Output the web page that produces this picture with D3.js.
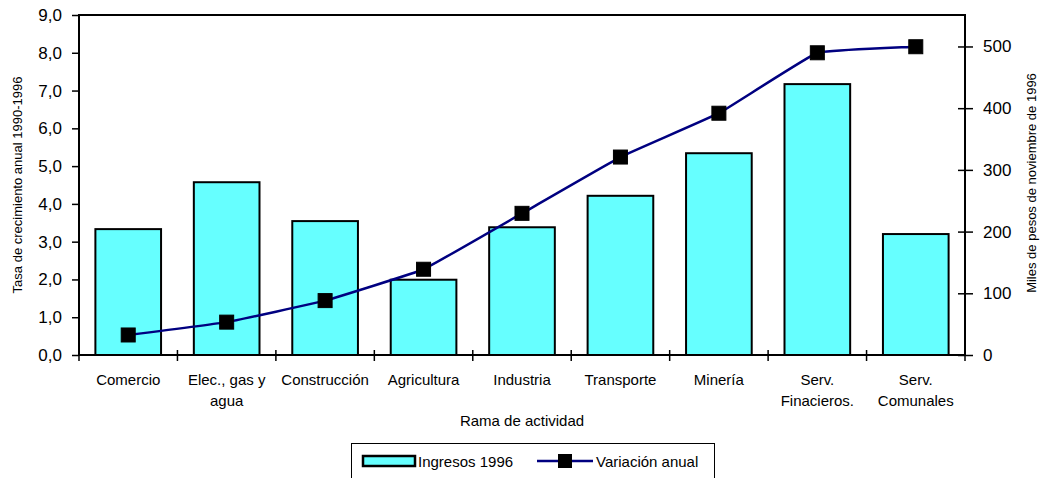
<!DOCTYPE html>
<html><head><meta charset="utf-8">
<script src="https://cdn.jsdelivr.net/npm/d3@7"></script>
<style>body{margin:0;background:#fff}svg{display:block;font-family:"Liberation Sans",Arial,sans-serif}</style>
</head><body><svg id="c" width="1041" height="478"></svg>
<script>
const categories = [["Comercio"],["Elec., gas y","agua"],["Construcción"],["Agricultura"],["Industria"],["Transporte"],["Minería"],["Serv.","Finacieros."],["Serv.","Comunales"]];
const ingresos = [204, 280, 217, 122, 207, 258, 327, 439, 196];
const variacion = [0.53, 0.87, 1.44, 2.27, 3.75, 5.24, 6.40, 8.00, 8.16];
const leftTicks = [0,1,2,3,4,5,6,7,8,9];
const rightTicks = [0,100,200,300,400,500];

const svg = d3.select("#c");
const L = 79, R = 965, T = 15, B = 355;
const keys = categories.map((c,i)=>i);
const x = d3.scaleBand().domain(keys).range([L,R]).paddingInner(0.333).paddingOuter(0.1665);
const xb = d3.scaleBand().domain(keys).range([L,R]);
const yL = d3.scaleLinear().domain([0,9]).range([B,T]);
const yR = d3.scaleLinear().domain([0,551]).range([B,T]);

// bars
svg.append("g").selectAll("rect").data(ingresos).join("rect")
  .attr("x",(d,i)=>x(i)).attr("width",x.bandwidth())
  .attr("y",d=>yR(d)).attr("height",d=>B-yR(d))
  .attr("fill","#66FFFF").attr("stroke","#000").attr("stroke-width",2);

// frame
svg.append("path").attr("d",`M${L},${B}V${T}H${R}V${B}`).attr("fill","none").attr("stroke","#000").attr("stroke-width",2);
svg.append("line").attr("x1",L).attr("x2",R).attr("y1",B).attr("y2",B).attr("stroke","#000").attr("stroke-width",2);

// left axis
const gl = svg.append("g").attr("transform",`translate(${L},0)`)
  .call(d3.axisLeft(yL).tickValues(leftTicks).tickSize(7).tickPadding(10).tickFormat(d=>d3.format(".1f")(d).replace(".",",")));
gl.select(".domain").remove();
gl.selectAll("line").attr("stroke","#000").attr("stroke-width",1.5);
gl.selectAll("text").attr("font-size",17).attr("fill","#000").attr("font-family","Liberation Sans, Arial");

// right axis
const gr = svg.append("g").attr("transform",`translate(${R},0)`)
  .call(d3.axisRight(yR).tickValues(rightTicks).tickSize(8).tickPadding(10));
gr.select(".domain").remove();
gr.selectAll("line").attr("x1",-7).attr("stroke","#000").attr("stroke-width",1.5);
gr.selectAll("text").attr("font-size",17).attr("fill","#000").attr("font-family","Liberation Sans, Arial");

// x ticks at band boundaries
svg.append("g").selectAll("line").data(keys.concat([keys.length])).join("line")
  .attr("x1",i=> i<keys.length ? xb(i) : R).attr("x2",i=> i<keys.length ? xb(i) : R)
  .attr("y1",B-5).attr("y2",B+6).attr("stroke","#000").attr("stroke-width",1.5);

// category labels
const cl = svg.append("g").selectAll("text").data(categories).join("text")
  .attr("x",(d,i)=>xb(i)+xb.bandwidth()/2).attr("y",385)
  .attr("text-anchor","middle").attr("font-size",15).attr("fill","#000");
cl.selectAll("tspan").data(d=>d).join("tspan")
  .attr("x",function(){return d3.select(this.parentNode).attr("x");})
  .attr("dy",(d,j)=>j===0?0:21).text(d=>d);

// line
const line = d3.line().x((d,i)=>xb(i)+xb.bandwidth()/2).y(d=>yL(d)).curve(d3.curveCardinal.tension(0.75));
svg.append("path").datum(variacion).attr("d",line).attr("fill","none").attr("stroke","#000080").attr("stroke-width",2.5);
svg.append("g").selectAll("rect").data(variacion).join("rect")
  .attr("x",(d,i)=>xb(i)+xb.bandwidth()/2-7).attr("y",d=>yL(d)-7)
  .attr("width",14).attr("height",14).attr("fill","#000").attr("stroke","#000");

// axis titles
svg.append("text").attr("transform",`translate(22,${(T+B)/2}) rotate(-90)`).attr("text-anchor","middle")
  .attr("font-size",13).text("Tasa de crecimiento anual 1990-1996");
svg.append("text").attr("transform",`translate(1036,${(T+B)/2-2}) rotate(-90)`).attr("text-anchor","middle")
  .attr("font-size",13).text("Miles de pesos de noviembre de 1996");
svg.append("text").attr("x",(L+R)/2).attr("y",426).attr("text-anchor","middle").attr("font-size",15).text("Rama de actividad");

// legend
const lg = svg.append("g");
lg.append("rect").attr("x",351.5).attr("y",443.5).attr("width",363).attr("height",40).attr("fill","#fff").attr("stroke","#000").attr("stroke-width",1);
lg.append("rect").attr("x",363).attr("y",456).attr("width",52).attr("height",10).attr("fill","#66FFFF").attr("stroke","#000").attr("stroke-width",2.5);
lg.append("text").attr("x",418).attr("y",467).attr("font-size",15).text("Ingresos 1996");
lg.append("line").attr("x1",537).attr("x2",593).attr("y1",461).attr("y2",461).attr("stroke","#000080").attr("stroke-width",2.5);
lg.append("rect").attr("x",558).attr("y",454).attr("width",14).attr("height",14).attr("fill","#000");
lg.append("text").attr("x",596).attr("y",467).attr("font-size",15).text("Variación anual");
</script></body></html>
